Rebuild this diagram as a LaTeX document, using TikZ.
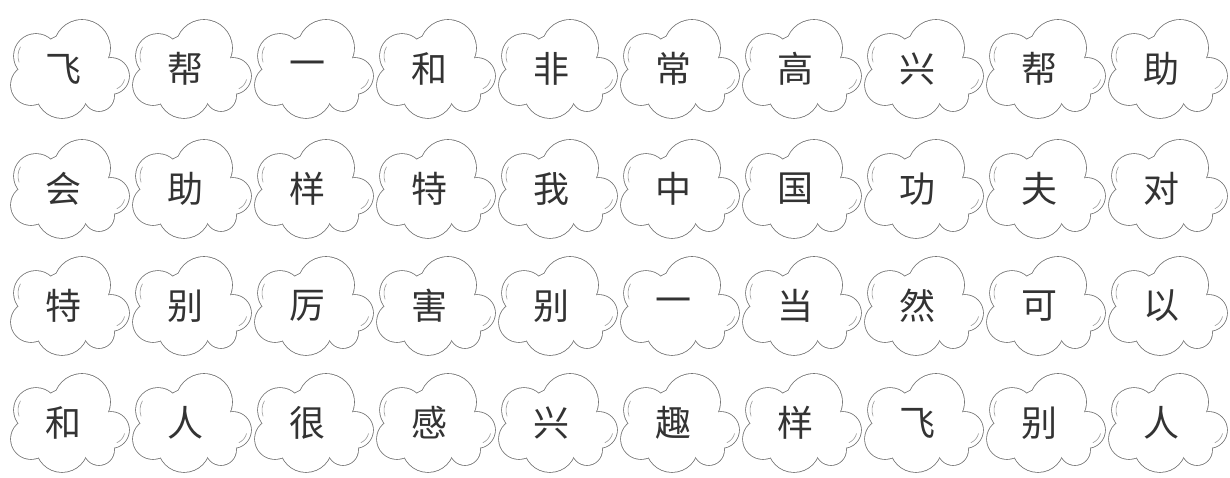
\documentclass[tikz,border=0pt]{standalone}
\usepackage{fontspec}
\newfontfamily\cjk{Noto Sans CJK SC}
\tikzset{
  cloudline/.style={draw=black!55, line width=1.6pt},
  cloudfill/.style={fill=white},
  highlight/.style={draw=black!40, line width=0.6pt, line cap=round},
  hanzi/.style={font=\cjk\fontsize{36}{36}\selectfont, text=black!80, inner sep=0pt},
}
\newcommand\puffcloud[4]{%
  \begin{scope}[shift={(#1,#2)}]
    \foreach \cx/\cy/\r in {19/-22/28,-27/-14/22,-32/15/20,-1/22/26,36/26/15,48/6/18,7/0/36}
      \path[cloudline] (\cx,\cy) circle[radius=\r pt];
    \foreach \cx/\cy/\r in {19/-22/28,-27/-14/22,-32/15/20,-1/22/26,36/26/15,48/6/18,7/0/36}
      \path[cloudfill] (\cx,\cy) circle[radius=\r pt];
    \draw[highlight] ([shift={(150:18pt)}]-27,-14) arc[start angle=150,end angle=200,radius=18pt];
    \draw[highlight] ([shift={(-15:14pt)}]48,6) arc[start angle=-15,end angle=-65,radius=14pt];
    \node[hanzi] (#3) at (0,-1) {#4};
  \end{scope}}
\begin{document}
\begin{tikzpicture}[x=1pt,y=-1pt]
\useasboundingbox (0,0) rectangle (1230,477);
\foreach \ch [count=\i from 0] in {飞,帮,一,和,非,常,高,兴,帮,助}
  {\puffcloud{63+122*\i}{70}{a\i}{\ch}}
\foreach \ch [count=\i from 0] in {会,助,样,特,我,中,国,功,夫,对}
  {\puffcloud{63+122*\i}{190}{b\i}{\ch}}
\foreach \ch [count=\i from 0] in {特,别,厉,害,别,一,当,然,可,以}
  {\puffcloud{63+122*\i}{307}{c\i}{\ch}}
\foreach \ch [count=\i from 0] in {和,人,很,感,兴,趣,样,飞,别,人}
  {\puffcloud{63+122*\i}{424}{d\i}{\ch}}
\end{tikzpicture}
\end{document}
